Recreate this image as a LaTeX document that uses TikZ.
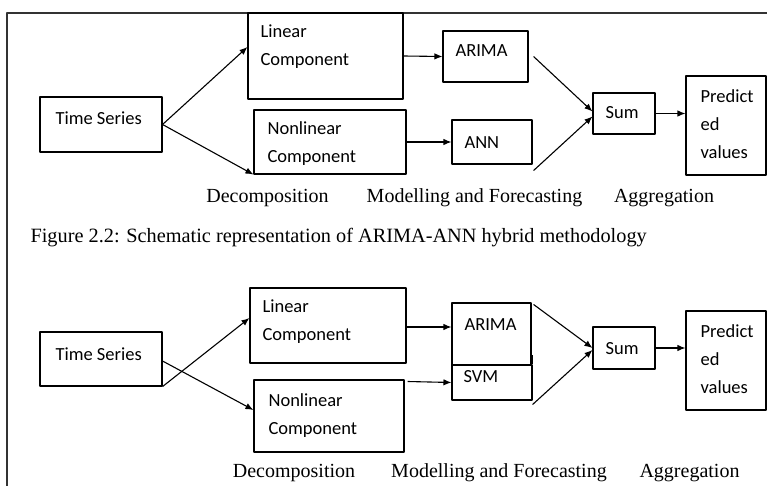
\documentclass[tikz,border=0pt]{standalone}
\usepackage{fontspec}
\setmainfont{Liberation Serif}
\newfontfamily\boxfont{Carlito}
\usetikzlibrary{arrows.meta,calc}
\tikzset{
  blk/.style={draw=black,line width=1.1bp,minimum width=#1,inner sep=0pt},
  blk/.default=10bp,
  txt/.style={anchor=west,inner sep=0pt,align=left,font=\boxfont\fontsize{18.5bp}{28bp}\selectfont},
  stage/.style={inner sep=0pt,font=\fontsize{20bp}{24bp}\selectfont},
}
\begin{document}
\begin{tikzpicture}[x=1bp,y=-1bp,>={Latex[length=8bp,width=6.5bp]},line join=bevel,line width=1.1bp]
\useasboundingbox (0,0) rectangle (767,486);
  % frame
  \draw[line width=1.1bp,black!80] (7,486) -- (7,13) -- (767,13);
%%
  % Node: Time_Series (upper)
  \node[blk=122bp,minimum height=55bp] (ts1) at (101,124.5) {};
  \node[txt] (ts1t) at (55,118) {Time Series};
  % Node: Linear (upper)
  \node[blk=155bp,minimum height=86bp] (lin1) at (325.5,56) {};
  \node[txt] (lin1t) at (260,47) {Linear\\Component};
  % Node: Nonlinear (upper)
  \node[blk=152bp,minimum height=64bp] (non1) at (330,142) {};
  \node[txt] (non1t) at (267,143.5) {Nonlinear\\Component};
  % Node: ARIMA (upper)
  \node[blk=85bp,minimum height=51bp] (ari1) at (485.5,56.5) {};
  \node[txt] (ari1t) at (455,51) {ARIMA};
  % Node: ANN
  \node[blk=80bp,minimum height=44bp] (ann1) at (492,142) {};
  \node[txt] (ann1t) at (464,143) {ANN};
  % Node: Sum (upper)
  \node[blk=62bp,minimum height=41bp] (sum1) at (624,113.5) {};
  \node[txt] (sum1t) at (605,113) {Sum};
  % Node: Predicted (upper)
  \node[blk=80bp,minimum height=99bp] (pre1) at (726,125.5) {};
  \node[txt] (pre1t) at (700,124) {Predict\\ed\\values};
  % Edge: Time_Series -> Linear, Nonlinear
  \draw [->] (ts1.east) -- ($(lin1.west)+(0,-9)$);
  \draw [->] (ts1.east) -- (non1.south west);
  % Edge: Linear -> ARIMA
  \draw [->] (lin1.east) -- (ari1.west);
  % Edge: Nonlinear -> ANN
  \draw [->] (non1.east) -- (ann1.west);
  % Edge: ARIMA, ANN -> Sum
  \draw [->] ($(ari1.east)+(5,0)$) -- ($(sum1.west)+(0,-2)$);
  \draw [->] ($(ann1.south east)+(1,6)$) -- ($(sum1.west)+(0,3)$);
  % Edge: Sum -> Predicted
  \draw [->] (sum1.east) -- (sum1.east -| pre1.west);
  % stage labels
  \node[stage] (dec1) at (267.5,198) {Decomposition};
  \node[stage] (mod1) at (474.5,198) {Modelling and Forecasting};
  \node[stage] (agg1) at (664,198) {Aggregation};
  \node[stage,anchor=west,font=\fontsize{20.3bp}{24bp}\selectfont] (cap) at (30,238) {Figure 2.2: Schematic representation of ARIMA-ANN hybrid methodology};
%%
  % Node: Time_Series (lower)
  \node[blk=122bp,minimum height=54bp] (ts2) at (101,359) {};
  \node[txt] (ts2t) at (55,354) {Time Series};
  % Node: Linear (lower)
  \node[blk=156bp,minimum height=75bp] (lin2) at (328,325.5) {};
  \node[txt] (lin2t) at (262,321.5) {Linear\\Component};
  % Node: Nonlinear (lower)
  \node[blk=150bp,minimum height=72bp] (non2) at (329,416) {};
  \node[txt] (non2t) at (268,416) {Nonlinear\\Component};
  % Node: ARIMA (lower)
  \node[blk=79bp,minimum height=62bp] (ari2) at (491.5,334) {};
  \node[txt] (ari2t) at (464,325) {ARIMA};
  % Node: SVM
  \node[blk=80bp,minimum height=35bp] (svm2) at (492,382.5) {};
  \node[txt] (svm2t) at (463,377) {SVM};
  \draw (svm2.north east) -- ++(0,-9);
  % Node: Sum (lower)
  \node[blk=62bp,minimum height=42bp] (sum2) at (624,348) {};
  \node[txt] (sum2t) at (605,349) {Sum};
  % Node: Predicted (lower)
  \node[blk=80bp,minimum height=99bp] (pre2) at (726,360.5) {};
  \node[txt] (pre2t) at (700,359.5) {Predict\\ed\\values};
  % Edge: Time_Series -> Linear, Nonlinear
  \draw [->] (ts2.south east) -- ($(lin2.west)+(0,-7.5)$);
  \draw [->] ($(ts2.east)+(0,2)$) -- ($(non2.west)+(0,-6)$);
  % Edge: Linear -> ARIMA
  \draw [->] ($(lin2.east)+(0,1.5)$) -- ($(ari2.west |- lin2.east)+(0,1.5)$);
  % Edge: Nonlinear -> SVM
  \draw [->] ($(svm2.west -| non2.east)+(3,-1)$) -- (svm2.west);
  % Edge: ARIMA, SVM -> Sum
  \draw [->] ($(ari2.north east)+(2,2)$) -- (sum2.west);
  \draw [->] ($(svm2.south east)+(0,4)$) -- ($(sum2.west)+(0,2)$);
  % Edge: Sum -> Predicted
  \draw [->] (sum2.east) -- (sum2.east -| pre2.west);
  % stage labels
  \node[stage] (dec2) at (294,473) {Decomposition};
  \node[stage] (mod2) at (499,473) {Modelling and Forecasting};
  \node[stage] (agg2) at (689.5,473) {Aggregation};
%
\end{tikzpicture}
\end{document}
